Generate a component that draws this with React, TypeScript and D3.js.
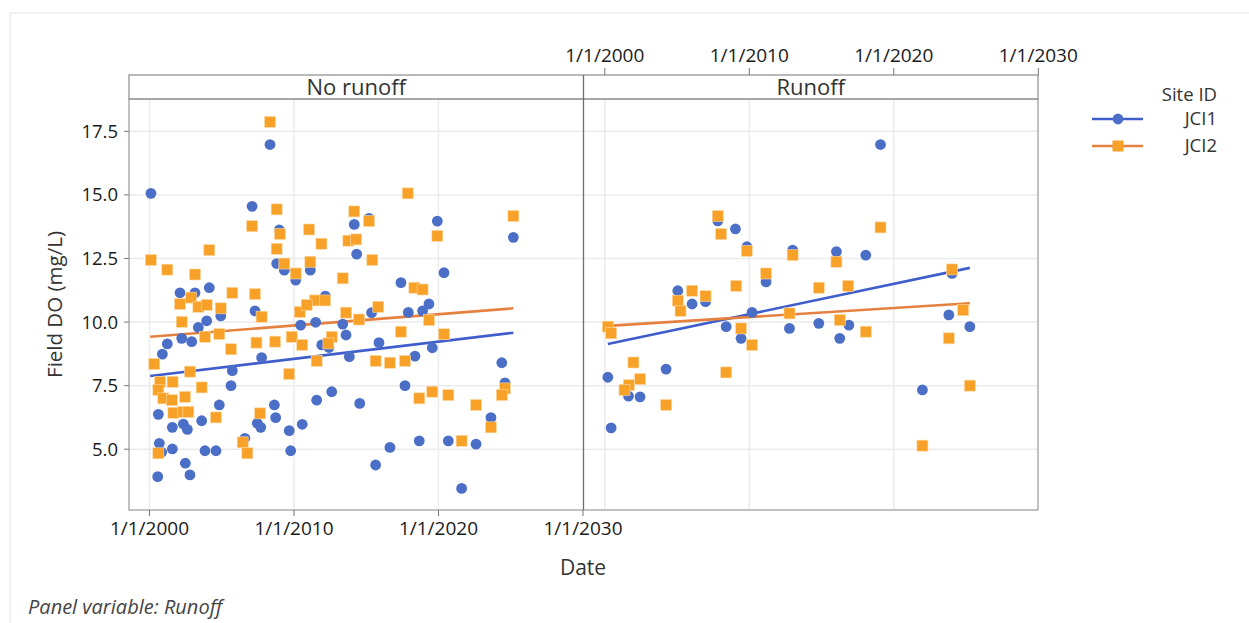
import React from "react";
import * as d3 from "d3";

// Panel and series names
const panelNames = ["No runoff", "Runoff"];
const seriesNames = ["JCI1", "JCI2"];
const seriesColors = ["#4B6FC6", "#F7A128"];
const trendColors = ["#3F5ECC", "#E5813F"];

// Sample date (decimal year) and Field DO (mg/L)
const noRunoffJCI1: [number, number][] = [
  [2000.10, 15.06], [2007.10, 14.55], [2008.34, 16.98], [2008.98, 13.62], [2014.17, 13.84],
  [2014.34, 12.67], [2008.80, 12.30], [2009.33, 12.04], [2010.12, 11.65], [2011.13, 12.04],
  [2002.11, 11.15], [2003.15, 11.15], [2004.14, 11.35], [2012.17, 11.02], [2004.93, 10.24],
  [2003.96, 10.05], [2003.38, 9.79], [2002.23, 9.36], [2002.92, 9.23], [2001.23, 9.14],
  [2000.89, 8.74], [2005.73, 8.09], [2005.64, 7.50], [2000.61, 6.37], [2004.83, 6.74],
  [2003.61, 6.12], [2001.58, 5.86], [2002.34, 5.99], [2002.62, 5.78], [2000.68, 5.23],
  [2000.84, 4.88], [2001.58, 5.01], [2002.48, 4.45], [2002.80, 3.99], [2000.57, 3.92],
  [2003.84, 4.94], [2004.60, 4.94], [2006.60, 5.43], [2007.30, 10.44], [2007.76, 8.60],
  [2008.64, 6.74], [2008.73, 6.24], [2007.46, 6.02], [2007.70, 5.86], [2009.67, 5.73],
  [2009.77, 4.94], [2010.57, 5.98], [2010.46, 9.88], [2011.50, 9.99], [2011.92, 9.10],
  [2012.42, 9.00], [2011.57, 6.93], [2012.61, 7.26], [2013.37, 9.92], [2013.60, 9.49],
  [2013.83, 8.64], [2014.55, 6.80], [2015.19, 14.08], [2019.92, 13.97], [2025.18, 13.33],
  [2020.38, 11.94], [2017.40, 11.55], [2019.34, 10.71], [2018.90, 10.44], [2015.37, 10.37],
  [2017.91, 10.38], [2015.88, 9.19], [2019.57, 8.99], [2018.37, 8.66], [2024.38, 8.40],
  [2017.68, 7.50], [2024.60, 7.61], [2023.63, 6.24], [2016.64, 5.07], [2018.67, 5.33],
  [2020.68, 5.33], [2022.60, 5.20], [2015.65, 4.38], [2021.60, 3.46],
];

const noRunoffJCI2: [number, number][] = [
  [2008.34, 17.87], [2008.80, 14.43], [2007.10, 13.77], [2009.03, 13.46], [2011.04, 13.64],
  [2011.90, 13.08], [2014.17, 14.35], [2013.76, 13.20], [2014.30, 13.25], [2004.14, 12.83],
  [2008.80, 12.88], [2000.10, 12.44], [2001.23, 12.06], [2003.15, 11.87], [2009.33, 12.30],
  [2010.12, 11.91], [2011.13, 12.37], [2013.37, 11.72], [2002.87, 10.96], [2005.73, 11.15],
  [2007.30, 11.10], [2011.45, 10.85], [2012.15, 10.85], [2002.11, 10.71], [2003.38, 10.60],
  [2003.96, 10.67], [2004.93, 10.54], [2002.23, 10.01], [2003.84, 9.42], [2004.83, 9.53],
  [2005.64, 8.93], [2000.33, 8.35], [2002.80, 8.05], [2003.61, 7.43], [2000.73, 7.65],
  [2001.60, 7.65], [2000.61, 7.33], [2000.95, 7.00], [2001.55, 6.93], [2002.46, 7.06],
  [2001.65, 6.43], [2002.34, 6.47], [2002.69, 6.47], [2004.60, 6.25], [2000.61, 4.84],
  [2006.45, 5.27], [2006.77, 4.84], [2007.76, 10.21], [2007.40, 9.19], [2008.69, 9.23],
  [2007.65, 6.41], [2009.67, 7.96], [2009.84, 9.42], [2010.57, 9.10], [2010.40, 10.40],
  [2010.88, 10.67], [2012.61, 9.42], [2012.38, 9.16], [2011.57, 8.47], [2013.60, 10.37],
  [2014.50, 10.10], [2017.87, 15.06], [2015.19, 13.97], [2015.42, 12.44], [2025.18, 14.17],
  [2019.92, 13.39], [2018.33, 11.35], [2018.90, 11.28], [2015.83, 10.60], [2019.34, 10.08],
  [2017.40, 9.62], [2020.38, 9.52], [2015.65, 8.47], [2016.64, 8.40], [2017.68, 8.47],
  [2024.60, 7.39], [2024.38, 7.13], [2018.67, 7.00], [2019.57, 7.26], [2020.68, 7.13],
  [2022.60, 6.74], [2023.63, 5.86], [2021.60, 5.33],
];

const runoffJCI1: [number, number][] = [
  [2007.82, 13.98], [2009.04, 13.66], [2009.83, 12.96], [2013.00, 12.83], [2011.16, 11.58],
  [2005.05, 11.23], [2006.04, 10.71], [2006.97, 10.80], [2000.21, 7.83], [2000.44, 5.84],
  [2001.64, 7.09], [2002.44, 7.06], [2004.24, 8.15], [2008.40, 9.82], [2009.43, 9.36],
  [2010.19, 10.38], [2012.78, 9.75], [2019.08, 16.98], [2016.03, 12.77], [2018.06, 12.63],
  [2024.03, 11.91], [2014.81, 9.95], [2016.89, 9.88], [2016.26, 9.36], [2023.81, 10.28],
  [2025.26, 9.82], [2021.98, 7.33],
];

const runoffJCI2: [number, number][] = [
  [2007.82, 14.17], [2008.05, 13.46], [2009.83, 12.80], [2013.00, 12.63], [2011.16, 11.91],
  [2009.09, 11.42], [2006.04, 11.23], [2006.97, 11.02], [2005.05, 10.84], [2005.24, 10.44],
  [2000.21, 9.82], [2000.44, 9.56], [2001.98, 8.41], [2002.44, 7.76], [2001.66, 7.52],
  [2001.36, 7.33], [2004.24, 6.74], [2008.40, 8.02], [2009.43, 9.75], [2010.19, 9.10],
  [2012.78, 10.34], [2019.08, 13.72], [2016.03, 12.37], [2014.81, 11.35], [2016.84, 11.42],
  [2024.03, 12.07], [2016.26, 10.08], [2018.06, 9.62], [2024.80, 10.47], [2023.81, 9.36],
  [2025.26, 7.50], [2021.98, 5.14],
];

// Fitted regression lines: [start date, fit], [end date, fit]
const noRunoffTrendJCI1: [number, number][] = [[2000.05, 7.88], [2025.18, 9.58]];
const noRunoffTrendJCI2: [number, number][] = [[2000.05, 9.42], [2025.18, 10.54]];
const runoffTrendJCI1: [number, number][] = [[2000.21, 9.14], [2025.26, 12.13]];
const runoffTrendJCI2: [number, number][] = [[2000.21, 9.85], [2025.26, 10.74]];

// Axis ticks
const yTicks = [5, 7.5, 10, 12.5, 15, 17.5];
const xTickYears = [2000, 2010, 2020, 2030];

const panelPoints = [
  [noRunoffJCI1, noRunoffJCI2],
  [runoffJCI1, runoffJCI2],
];
const panelTrends = [
  [noRunoffTrendJCI1, noRunoffTrendJCI2],
  [runoffTrendJCI1, runoffTrendJCI2],
];

const toDate = (y: number) => {
  const yr = Math.floor(y);
  const start = Date.UTC(yr, 0, 1);
  const end = Date.UTC(yr + 1, 0, 1);
  return new Date(start + (y - yr) * (end - start));
};

const W = 1249;
const H = 623;
const FONT = "'Segoe UI', 'Open Sans', 'Noto Sans', sans-serif";
const stripTop = 75;
const plotTop = 99;
const plotBottom = 510;
const plotLeft = 129;
const plotRight = 1038;
const panelOffsets = [129, 584.3];
const panelWidth = 454;

export default function App() {
  const x = d3
    .scaleUtc()
    .domain([toDate(1998.581), toDate(2030)])
    .range([0, panelWidth]);
  const y = d3.scaleLinear().domain([2.61, 18.77]).range([plotBottom, plotTop]);
  const fmt = d3.utcFormat("%-m/%-d/%Y");
  const yFmt = d3.format(".1f");
  const xTicks = xTickYears.map((v) => toDate(v));
  const line = d3
    .line<[number, number]>()
    .x((d) => x(toDate(d[0])))
    .y((d) => y(d[1]));

  const panelBounds = [
    [plotLeft, 583.5],
    [583.5, plotRight],
  ];

  return (
    <svg
      width={W}
      height={H}
      style={{ position: "absolute", left: 0, top: 0, background: "#fff" }}
      fontFamily={FONT}
    >
      {/* outer frame */}
      <line x1={10} x2={W} y1={13} y2={13} stroke="#e3e3e3" />
      <line x1={10} x2={10} y1={13} y2={H} stroke="#e3e3e3" />

      {/* panels */}
      {panelNames.map((name, pi) => {
        const ox = panelOffsets[pi];
        const [bx0, bx1] = panelBounds[pi];
        return (
          <g key={name}>
            <defs>
              <clipPath id={`clip-${pi}`}>
                <rect x={bx0} y={plotTop} width={bx1 - bx0} height={plotBottom - plotTop} />
              </clipPath>
            </defs>
            {/* grid */}
            {yTicks.map((t) => (
              <line key={`gy${t}`} x1={bx0} x2={bx1} y1={y(t)} y2={y(t)} stroke="#ebebeb" strokeWidth={1.5} />
            ))}
            {xTicks.slice(0, 3).map((t, i) => (
              <line key={`gx${i}`} x1={ox + x(t)} x2={ox + x(t)} y1={plotTop} y2={plotBottom} stroke="#ebebeb" strokeWidth={1.5} />
            ))}
            {/* strip label */}
            <text
              x={(bx0 + bx1) / 2}
              y={(stripTop + plotTop) / 2}
              dy="0.35em"
              textAnchor="middle"
              fontSize={22}
              fill="#333"
            >
              {name}
            </text>
            <g clipPath={`url(#clip-${pi})`}>
              {/* trend lines */}
              {panelTrends[pi].map((tr, si) => (
                <path
                  key={`tr${si}`}
                  d={line(tr) || ""}
                  transform={`translate(${ox},0)`}
                  fill="none"
                  stroke={trendColors[si]}
                  strokeWidth={2.6}
                />
              ))}
              {/* JCI1 circles */}
              {panelPoints[pi][0].map((d, i) => (
                <circle key={`c${i}`} cx={ox + x(toDate(d[0]))} cy={y(d[1])} r={5.4} fill={seriesColors[0]} />
              ))}
              {/* JCI2 squares */}
              {panelPoints[pi][1].map((d, i) => (
                <rect
                  key={`s${i}`}
                  x={ox + x(toDate(d[0])) - 5.5}
                  y={y(d[1]) - 5.5}
                  width={11}
                  height={11}
                  fill={seriesColors[1]}
                  stroke="#fcd9a3"
                  strokeWidth={0.6}
                />
              ))}
            </g>
          </g>
        );
      })}

      {/* frame: strip and plot borders */}
      <rect x={plotLeft} y={stripTop} width={plotRight - plotLeft} height={plotTop - stripTop} fill="none" stroke="#8c8c8c" strokeWidth={1.2} />
      <rect x={plotLeft} y={plotTop} width={plotRight - plotLeft} height={plotBottom - plotTop} fill="none" stroke="#9a9a9a" strokeWidth={1.2} />
      <line x1={583.5} x2={583.5} y1={stripTop} y2={plotBottom} stroke="#6e6e6e" strokeWidth={1.3} />

      {/* y axis */}
      {yTicks.map((t) => (
        <g key={`yt${t}`}>
          <line x1={plotLeft - 5} x2={plotLeft} y1={y(t)} y2={y(t)} stroke="#777" />
          <text x={plotLeft - 11} y={y(t)} dy="0.35em" textAnchor="end" fontSize={18.5} fill="#1a1a1a">
            {yFmt(t)}
          </text>
        </g>
      ))}
      <text
        transform={`translate(62,${(plotTop + plotBottom) / 2}) rotate(-90)`}
        textAnchor="middle"
        fontSize={20.5}
        fill="#333"
      >
        Field DO (mg/L)
      </text>

      {/* bottom axis (first panel) */}
      {xTicks.map((t, i) => {
        const px = panelOffsets[0] + x(t);
        return (
          <g key={`xb${i}`}>
            <line x1={px} x2={px} y1={plotBottom} y2={plotBottom + 6} stroke="#777" />
            <text x={px} y={plotBottom + 18} dy="0.35em" textAnchor="middle" fontSize={19} fill="#1a1a1a">
              {fmt(t)}
            </text>
          </g>
        );
      })}

      {/* top axis (second panel) */}
      {xTicks.map((t, i) => {
        const px = panelOffsets[1] + x(t);
        return (
          <g key={`xt${i}`}>
            <line x1={px} x2={px} y1={stripTop - 7} y2={stripTop} stroke="#777" />
            <text x={px} y={stripTop - 20} dy="0.35em" textAnchor="middle" fontSize={19} fill="#1a1a1a">
              {fmt(t)}
            </text>
          </g>
        );
      })}

      <text x={583} y={568} dy="0.35em" textAnchor="middle" fontSize={21} fill="#333">
        Date
      </text>

      {/* legend */}
      <text x={1217} y={95} dy="0.35em" textAnchor="end" fontSize={18.5} fill="#333">
        Site ID
      </text>
      {seriesNames.map((s, i) => {
        const ly = 119 + i * 27;
        return (
          <g key={s}>
            <line x1={1092} x2={1143} y1={ly} y2={ly} stroke={trendColors[i]} strokeWidth={2.6} />
            {i === 0 ? (
              <circle cx={1118} cy={ly} r={5.4} fill={seriesColors[0]} />
            ) : (
              <rect x={1118 - 5.5} y={ly - 5.5} width={11} height={11} fill={seriesColors[1]} />
            )}
            <text x={1217} y={ly} dy="0.35em" textAnchor="end" fontSize={18.5} fill="#333">
              {s}
            </text>
          </g>
        );
      })}

      <text x={28} y={607} dy="0.35em" fontSize={20} fontStyle="italic" fill="#444">
        Panel variable: Runoff
      </text>
    </svg>
  );
}
